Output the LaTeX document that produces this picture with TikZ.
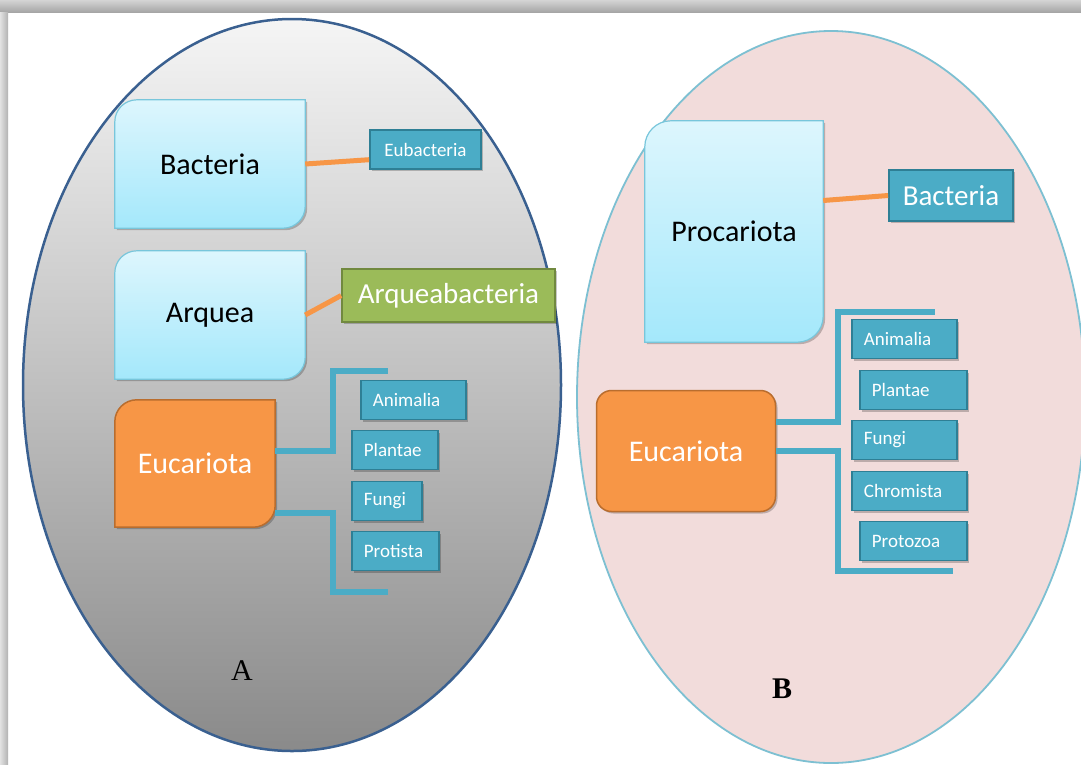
\documentclass[tikz,border=0pt]{standalone}
\usepackage{fontspec}
\setmainfont{Carlito}
\newfontfamily\serifAB{Liberation Serif}
\usetikzlibrary{calc}
\definecolor{shTop}{HTML}{D4D4D4}
\definecolor{shBot}{HTML}{A6A6A6}
\definecolor{shL}{HTML}{E2E2E2}
\definecolor{shR}{HTML}{B2B2B2}
\definecolor{ellAline}{HTML}{3A6090}
\definecolor{gAtop}{HTML}{F5F5F5}
\definecolor{gAbot}{HTML}{8A8A8A}
\definecolor{pinkB}{HTML}{F2DCDB}
\definecolor{ellBline}{HTML}{7DC0D2}
\definecolor{lbTop}{HTML}{DDF6FD}
\definecolor{lbBot}{HTML}{A4E8FB}
\definecolor{lbLine}{HTML}{78C6DB}
\definecolor{orFill}{HTML}{F79646}
\definecolor{orLine}{HTML}{B96D2E}
\definecolor{tealFill}{HTML}{4BACC6}
\definecolor{tealLine}{HTML}{2E7F95}
\definecolor{grFill}{HTML}{9BBB59}
\definecolor{grLine}{HTML}{71893F}
\pgfdeclarelayer{back}
\pgfdeclarelayer{bg}
\pgfsetlayers{back,bg,main}
\newcommand\tlbrbox[3]{%
  \path[#3] (#1.south west) -- ($(#1.north west)+(0,#2)$)
    arc[start angle=180,end angle=270,radius=#2] -- (#1.north east)
    -- ($(#1.south east)+(0,-#2)$)
    arc[start angle=0,end angle=90,radius=#2] -- cycle;}
\begin{document}
\begin{tikzpicture}[x=1pt,y=-1pt,
  boxshadow/.style={preaction={fill=black,opacity=0.22,transform canvas={shift={(2pt,-2pt)}}}},
  bigtext/.style={font=\fontsize{30}{36}\selectfont,inner sep=0pt},
  lightbox/.style={boxshadow,top color=lbTop,bottom color=lbBot,draw=lbLine,line width=1.2pt},
  orbox/.style={boxshadow,fill=orFill,draw=orLine,line width=1.5pt},
  smallbox/.style={boxshadow,fill=tealFill,draw=tealLine,line width=1.8pt,text=white,
    font=\fontsize{19}{22}\selectfont,minimum height=39pt,inner ysep=0pt,inner xsep=12pt,
    align=left,anchor=west},
  orline/.style={draw=orFill,line width=5pt},
  blueline/.style={draw=tealFill,line width=6pt,line cap=butt,line join=miter},
  lab/.style={font=\serifAB\fontsize{30}{36}\selectfont,inner sep=0pt}]
\useasboundingbox (0,0) rectangle (1081,764);
\begin{pgfonlayer}{back}
  \fill[white] (0,0) rectangle (1081,764);
  \fill[top color=shTop,bottom color=shBot] (0,0) rectangle (1081,12);
  \fill[left color=shL,right color=shR] (0,12) rectangle (8,764);
  \path[draw=ellAline,line width=2.5pt,top color=gAtop,bottom color=gAbot]
    (292,385) ellipse [x radius=269,y radius=366];
  \path[draw=ellBline,line width=1.8pt,fill=pinkB]
    (831,397) ellipse [x radius=254,y radius=366];
\end{pgfonlayer}

% ---- A ----
\node[bigtext,minimum width=190pt,minimum height=128pt] (bac) at (210,164) {Bacteria};
\node[bigtext,minimum width=190pt,minimum height=128pt] (arq) at (210,315) {Arquea};
\node[bigtext,text=white,minimum width=160pt,minimum height=127pt] (euA) at (195,463.5) {Eucariota};
\begin{pgfonlayer}{bg}
  \tlbrbox{bac}{22}{lightbox}
  \tlbrbox{arq}{22}{lightbox}
  \tlbrbox{euA}{22}{orbox}
\end{pgfonlayer}
\node[smallbox,anchor=center,align=center,minimum width=111pt,text width=87pt] (eub) at (425.5,149.5) {Eubacteria};
\node[smallbox,anchor=center,align=center,fill=grFill,draw=grLine,minimum width=213pt,minimum height=53pt,
  font=\fontsize{29}{34}\selectfont,text width=189pt] (arqb) at (448.5,295.5) {Arqueabacteria};
\node[smallbox,text width=81pt] (aAni) at (360,400) {Animalia};
\node[smallbox,text width=62pt] (aPla) at (351,450) {Plantae};
\node[smallbox,text width=46pt] (aFun) at (351,501) {Fungi};
\node[smallbox,text width=63pt] (aPro) at (351,551) {Protista};
\node[lab] (labA) at (242,671) {A};

\draw[orline] (bac.east) -- ($(eub.south west)!0.25!(eub.north west)$);
\draw[orline] (arq.east) -- (arqb.west);
\coordinate (aTop) at (388,371);
\coordinate (aBot) at (388,592);
\draw[blueline] ([yshift=12.5pt]euA.east) -- ++(58,0) |- (aTop);
\draw[blueline] ([yshift=-49.5pt]euA.east) -- ++(58,0) |- (aBot);

% ---- B ----
\node[bigtext,minimum width=178pt,minimum height=221pt] (pro) at (734,231.5) {Procariota};
\begin{pgfonlayer}{bg}
  \tlbrbox{pro}{26}{lightbox}
\end{pgfonlayer}
\node[bigtext,text=white,orbox,rounded corners=15pt,minimum width=179pt,minimum height=121pt] (euB) at (686,451) {Eucariota};
\node[smallbox,anchor=center,align=center,minimum width=124pt,minimum height=51pt,
  font=\fontsize{29}{34}\selectfont,text width=100pt] (bacB) at (951,195.5) {Bacteria};
\node[smallbox,text width=81pt] (bAni) at (851,339) {Animalia};
\node[smallbox,text width=83pt] (bPla) at (859,390) {Plantae};
\node[smallbox,text width=81pt] (bFun) at (851,440) {Fungi};
\node[smallbox,text width=91pt] (bChr) at (851,491) {Chromista};
\node[smallbox,text width=83pt] (bPrz) at (859,541) {Protozoa};
\node[lab,font=\serifAB\bfseries\fontsize{30}{36}\selectfont] (labB) at (782,689) {B};

\draw[orline] ([yshift=31pt]pro.east) -- (bacB.west);
\coordinate (bTop) at (935,312);
\coordinate (bBot) at (953,571);
\draw[blueline] ([yshift=29pt]euB.east) -- ++(62,0) |- (bTop);
\draw[blueline] (euB.east) -- ++(62,0) |- (bBot);
\end{tikzpicture}
\end{document}
